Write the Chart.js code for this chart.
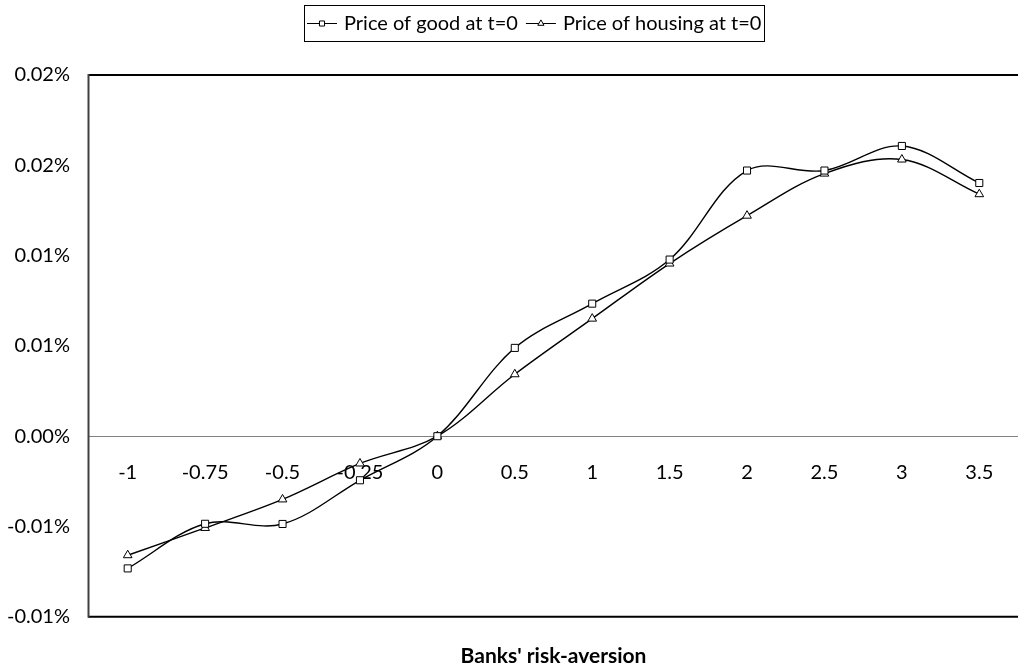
<!DOCTYPE html>
<html><head><meta charset="utf-8">
<script src="https://cdn.jsdelivr.net/npm/chart.js@4/dist/chart.umd.min.js"></script>
<style>
html,body{margin:0;padding:0;background:#fff;overflow:hidden;}
#wrap{width:1024px;height:670px;position:relative;}
</style></head><body>
<div id="wrap"><canvas id="c"></canvas></div>
<script>
const categories = ['-1','-0.75','-0.5','-0.25','0','0.5','1','1.5','2','2.5','3','3.5'];
const priceGood = [-0.00732,-0.00485,-0.00486,-0.00244,0,0.00489,0.00734,0.00978,0.01471,0.01471,0.01607,0.01402];
const priceHousing = [-0.00659,-0.00508,-0.00350,-0.00151,0,0.00343,0.00651,0.00956,0.01221,0.01454,0.01532,0.01340];
const yTicks = [-0.01,-0.005,0,0.005,0.01,0.015,0.02];
const seriesNames = ['Price of good at t=0','Price of housing at t=0'];
const xTitle = "Banks' risk-aversion";

const FONT_FAMILY = 'Lato, "Open Sans", sans-serif';
const FONT_SIZE = 20;

function fmtPct(v){
  const r = Math.sign(v) * Math.round(Math.abs(v) * 100 + 1e-9) / 100;
  return (r === 0 ? 0 : r).toFixed(2) + '%';
}

const plotBorder = {
  id: 'plotBorder',
  afterDraw(chart){
    const {ctx, chartArea: a} = chart;
    ctx.save();
    ctx.lineWidth = 2;
    ctx.strokeStyle = '#000';
    ctx.beginPath(); ctx.moveTo(a.left - 1, a.top); ctx.lineTo(a.right, a.top); ctx.stroke();
    ctx.beginPath(); ctx.moveTo(a.left - 1, a.bottom); ctx.lineTo(a.right, a.bottom); ctx.stroke();
    ctx.strokeStyle = '#404040';
    ctx.beginPath(); ctx.moveTo(a.left - 0.5, a.top - 1); ctx.lineTo(a.left - 0.5, a.bottom + 1); ctx.stroke();
    ctx.restore();
  }
};

const boxLegend = {
  id: 'boxLegend',
  afterDraw(chart){
    const ctx = chart.ctx;
    ctx.save();
    ctx.font = FONT_SIZE + 'px ' + FONT_FAMILY;
    const sets = chart.data.datasets;
    const sample = 30, gap = 7, between = 8, padX = 3;
    const widths = sets.map(ds => ctx.measureText(ds.label).width);
    let total = padX * 2;
    widths.forEach((w, i) => { total += sample + gap + w + (i ? between : 0); });
    const cx = 534, cy = 23, h = 36;
    let x = Math.round(cx - total / 2);
    ctx.strokeStyle = '#000';
    ctx.lineWidth = 1;
    ctx.strokeRect(x + 0.5, Math.round(cy - h / 2) + 0.5, Math.round(total), h);
    x += padX;
    sets.forEach((ds, i) => {
      ctx.strokeStyle = '#000';
      ctx.lineWidth = 1;
      ctx.beginPath(); ctx.moveTo(x, cy + 0.5); ctx.lineTo(x + sample, cy + 0.5); ctx.stroke();
      ctx.fillStyle = '#fff';
      Chart.helpers.drawPoint(ctx, {pointStyle: ds.pointStyle, radius: 3.6, borderWidth: 1, rotation: 0}, x + sample / 2, cy + 0.5);
      ctx.fillStyle = '#000';
      ctx.textBaseline = 'middle';
      ctx.textAlign = 'left';
      ctx.fillText(ds.label, x + sample + gap, cy + 1);
      x += sample + gap + widths[i] + between;
    });
    ctx.restore();
  }
};

new Chart(document.getElementById('c'), {
  type: 'line',
  data: {
    labels: categories,
    datasets: [
      {
        label: seriesNames[0],
        data: priceGood,
        borderColor: '#000',
        borderWidth: 1.4,
        tension: 0.35,
        pointStyle: 'rect',
        pointRadius: 5,
        pointBorderWidth: 1,
        pointBorderColor: '#000',
        pointBackgroundColor: '#fff',
        fill: false
      },
      {
        label: seriesNames[1],
        data: priceHousing,
        borderColor: '#000',
        borderWidth: 1.4,
        tension: 0.35,
        pointStyle: 'triangle',
        pointRadius: 5,
        pointBorderWidth: 1,
        pointBorderColor: '#000',
        pointBackgroundColor: '#fff',
        fill: false
      }
    ]
  },
  options: {
    responsive: true,
    maintainAspectRatio: false,
    animation: false,
    events: [],
    layout: { padding: { top: 75, left: 0, right: 0, bottom: 0 } },
    scales: {
      x: {
        type: 'category',
        position: { y: 0 },
        offset: true,
        grid: { display: false, drawTicks: false },
        border: { display: true, color: '#808080', width: 1 },
        ticks: {
          color: '#000',
          font: { family: FONT_FAMILY, size: FONT_SIZE },
          padding: 24,
          maxRotation: 0,
          autoSkip: false
        }
      },
      y: {
        type: 'linear',
        min: yTicks[0],
        max: yTicks[yTicks.length - 1],
        afterBuildTicks(scale){ scale.ticks = yTicks.map(v => ({ value: v })); },
        afterFit(scale){ scale.width = 89; },
        grid: { display: false, drawTicks: false },
        border: { display: false },
        ticks: {
          color: '#000',
          font: { family: FONT_FAMILY, size: FONT_SIZE },
          padding: 19,
          callback: (v) => fmtPct(v)
        }
      }
    },
    plugins: {
      legend: { display: false },
      tooltip: { enabled: false },
      title: {
        display: true,
        position: 'bottom',
        fullSize: false,
        text: xTitle,
        color: '#000',
        font: { family: FONT_FAMILY, size: 21, weight: 'bold', lineHeight: 1.2 },
        padding: { top: 27, bottom: 1 }
      }
    }
  },
  plugins: [plotBorder, boxLegend]
});
</script>
</body></html>
